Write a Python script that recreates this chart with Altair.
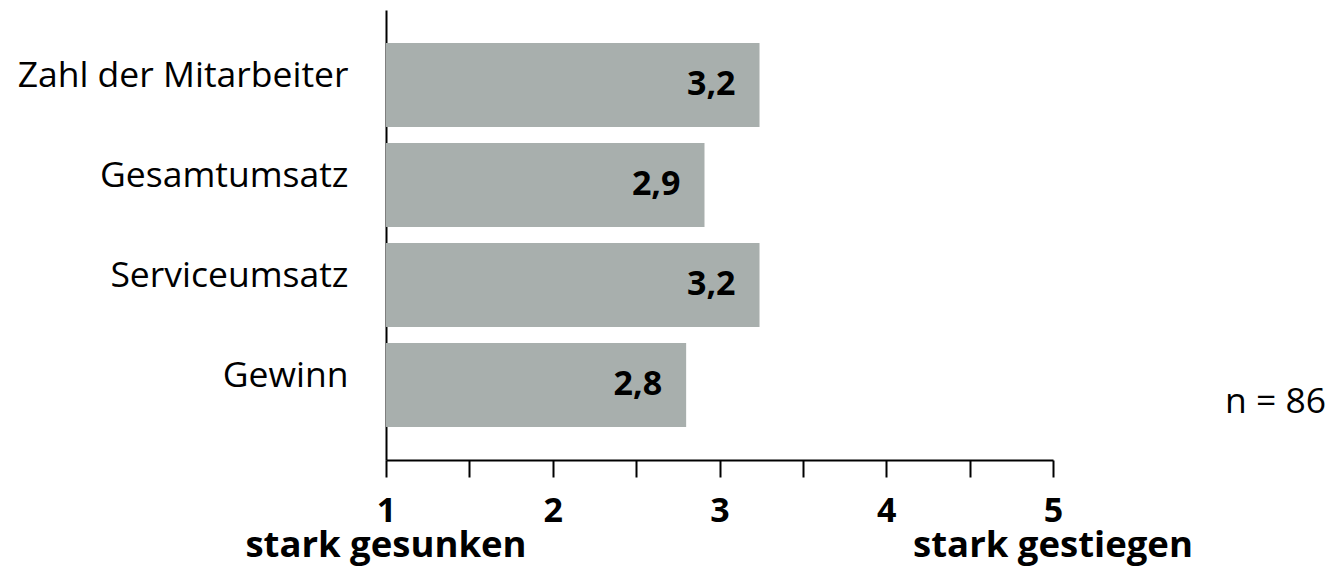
import altair as alt
import pandas as pd

# Survey items and mean ratings on the 1-5 scale
items = ["Zahl der Mitarbeiter", "Gesamtumsatz", "Serviceumsatz", "Gewinn"]
means = [3.24, 2.91, 3.24, 2.80]

scale_ticks = [1, 1.5, 2, 2.5, 3, 3.5, 4, 4.5, 5]
end_points = [1, 5]
end_labels = ["stark gesunken", "stark gestiegen"]
sample_note = "n = 86"

FONT = "Open Sans"
BAR_COLOR = "#a8afad"

df = pd.DataFrame({"item": items, "mean": means})
ends = pd.DataFrame({"pos": end_points, "text": end_labels})

x_scale = alt.Scale(domain=[1, 5], nice=False, zero=False)

x_enc = alt.X(
    "mean:Q",
    scale=x_scale,
    axis=alt.Axis(
        values=scale_ticks,
        title=None,
        grid=False,
        domainColor="black",
        domainWidth=2,
        tickColor="black",
        tickWidth=2,
        tickSize=17,
        labelFont=FONT,
        labelFontSize=34,
        labelFontWeight="bold",
        labelColor="black",
        labelAlign="center",
        labelBaseline="top",
        labelPadding=17,
        labelFlush=False,
        labelOverlap=False,
        labelExpr="datum.value % 1 == 0 ? format(datum.value, 'd') : ''",
    ),
)

y_enc = alt.Y(
    "item:N",
    sort=items,
    scale=alt.Scale(paddingInner=0.16, paddingOuter=0.33),
    axis=alt.Axis(
        title=None,
        ticks=False,
        domainColor="black",
        domainWidth=2,
        labelFont=FONT,
        labelFontSize=35.5,
        labelColor="black",
        labelPadding=38,
        labelBaseline="alphabetic",
        labelOffset=2,
        labelLimit=500,
    ),
)

bars = alt.Chart(df).mark_bar(color=BAR_COLOR).encode(
    x=x_enc,
    x2=alt.datum(1),
    y=y_enc,
)

values = alt.Chart(df).transform_calculate(
    label="replace(format(datum.mean, '.1f'), '.', ',')"
).mark_text(
    align="right",
    baseline="middle",
    dx=-24,
    font=FONT,
    fontSize=34,
    fontWeight="bold",
    color="black",
).encode(
    x="mean:Q",
    y=alt.Y("item:N", sort=items),
    text="label:N",
)

# Verbal anchors of the rating scale under its end points
anchors = alt.Chart(ends).mark_text(
    align="center",
    baseline="alphabetic",
    font=FONT,
    fontSize=36.5,
    fontWeight="bold",
    color="black",
).encode(
    x=alt.X("pos:Q", scale=x_scale),
    y=alt.value(547),
    text="text:N",
)

note = alt.Chart(pd.DataFrame({"t": [sample_note]})).mark_text(
    align="left",
    baseline="alphabetic",
    font=FONT,
    fontSize=35.5,
    color="black",
).encode(
    x=alt.value(839),
    y=alt.value(403),
    text="t:N",
)

chart = (
    alt.layer(bars, values, anchors, note)
    .properties(
        width=667,
        height=450,
        padding={"left": 386, "top": 10, "right": 275, "bottom": 111},
        autosize=alt.AutoSizeParams(type="none"),
        background="white",
    )
    .configure_view(stroke=None)
)

chart.save("out.html", embed_options={"renderer": "svg", "actions": False})
